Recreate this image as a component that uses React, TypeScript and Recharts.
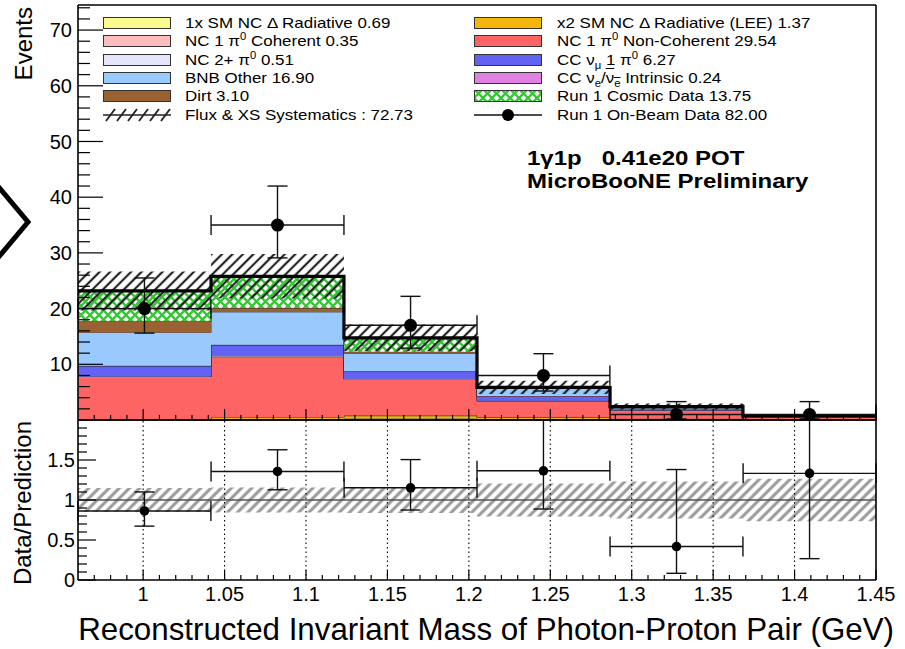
import React from 'react';
import {
  ComposedChart,
  Area,
  Line,
  Scatter,
  XAxis,
  YAxis,
  ErrorBar,
  ReferenceLine,
} from 'recharts';

const FONT = '"Liberation Sans", Arial, Helvetica, sans-serif';

// binning of the reconstructed photon-proton invariant mass (GeV)
const binEdges = [0.96, 1.0417, 1.1233, 1.205, 1.2867, 1.3683, 1.45];
const binCenters = [1.0008, 1.0825, 1.1642, 1.2458, 1.3275, 1.4092];
const binHalfWidth = 0.0408;

// stacked prediction, events per bin (bottom of the stack first)
const smDelta1x = [0.05, 0.15, 0.25, 0.15, 0.06, 0.03];
const smDelta2x = [0.1, 0.3, 0.5, 0.3, 0.12, 0.05];
const ncPi0Coh = [0.05, 0.1, 0.1, 0.05, 0.03, 0.02];
const ncPi0NonCoh = [7.45, 10.8, 6.44, 2.9, 1.5, 0.45];
const nc2Pi0 = [0.15, 0.15, 0.1, 0.06, 0.03, 0.02];
const ccNumuPi0 = [1.9, 1.95, 1.3, 0.77, 0.3, 0.05];
const ccNueIntrinsic = [0.02, 0.05, 0.06, 0.06, 0.03, 0.02];
const bnbOther = [6.0, 5.9, 3.2, 1.4, 0.3, 0.1];
const dirt = [2.0, 0.7, 0.3, 0.07, 0.02, 0.01];
const cosmic = [5.45, 5.7, 2.5, 0.1, 0, 0];

// flux & cross-section systematic (absolute, events)
const fluxXsSyst = [3.5, 4.0, 2.4, 1.2, 0.55, 0.2];

// on-beam data with asymmetric poisson errors
const onBeam = [20, 35, 17, 8, 1, 1];
const onBeamErrLow = [4.4, 5.9, 4.1, 2.8, 0.8, 0.8];
const onBeamErrHigh = [5.5, 7.0, 5.2, 3.9, 2.3, 2.3];

const xTicks = [1, 1.05, 1.1, 1.15, 1.2, 1.25, 1.3, 1.35, 1.4, 1.45];
const xTickLabels = ['1', '1.05', '1.1', '1.15', '1.2', '1.25', '1.3', '1.35', '1.4', '1.45'];
const eventsTicks = [10, 20, 30, 40, 50, 60, 70];
const ratioTicks = [0, 0.5, 1, 1.5];
const ratioTickLabels = ['0', '0.5', '1', '1.5'];

const X_DOMAIN: [number, number] = [0.96, 1.45];
const EVENTS_MAX = 74.5;
const RATIO_MAX = 2;

// minor tick positions (axis decoration only, majors included)
const xMinor = Array.from({ length: 49 }, (_, i) => +(0.97 + i * 0.01).toFixed(2));
const eventsMinor = Array.from({ length: 38 }, (_, i) => i * 2);
const ratioMinor = Array.from({ length: 21 }, (_, i) => +(i * 0.1).toFixed(1));

const STACK = [
  { key: 'smDelta1x', values: smDelta1x, fill: '#fafa8e' },
  { key: 'smDelta2x', values: smDelta2x, fill: '#f4b60a' },
  { key: 'ncPi0Coh', values: ncPi0Coh, fill: '#ffbcbc' },
  { key: 'ncPi0NonCoh', values: ncPi0NonCoh, fill: '#ff6464' },
  { key: 'nc2Pi0', values: nc2Pi0, fill: '#e4e4fa' },
  { key: 'ccNumuPi0', values: ccNumuPi0, fill: '#6262f4' },
  { key: 'ccNueIntrinsic', values: ccNueIntrinsic, fill: '#e080e0' },
  { key: 'bnbOther', values: bnbOther, fill: '#99c9fd' },
  { key: 'dirt', values: dirt, fill: '#9a6132' },
  { key: 'cosmic', values: cosmic, fill: 'url(#cosmicHatch)' },
];

const prediction = binCenters.map((_, b) => STACK.reduce((s, st) => s + st.values[b], 0));

// step rows at the bin edges; the last edge repeats the last bin
const stackRows = binEdges.map((x, i) => {
  const b = Math.min(i, binCenters.length - 1);
  const row: Record<string, any> = { x };
  STACK.forEach((st) => {
    row[st.key] = st.values[b];
  });
  row.total = prediction[b];
  row.syst = [prediction[b] - fluxXsSyst[b], prediction[b] + fluxXsSyst[b]];
  row.ratioSyst = [1 - fluxXsSyst[b] / prediction[b], 1 + fluxXsSyst[b] / prediction[b]];
  return row;
});

const dataPoints = binCenters.map((x, b) => ({
  x,
  y: onBeam[b],
  errY: [onBeamErrLow[b], onBeamErrHigh[b]],
  errX: binHalfWidth,
}));

const ratioPoints = binCenters.map((x, b) => {
  const r = onBeam[b] / prediction[b];
  const lo = Math.max(r - onBeamErrLow[b] / prediction[b], 0);
  const hi = Math.min(r + onBeamErrHigh[b] / prediction[b], RATIO_MAX);
  return { x, y: r, errY: [r - lo, hi - r], errX: binHalfWidth };
});

const axisLine = { stroke: '#000', strokeWidth: 1.6 };
const labelStyle = { fontSize: 20, fontFamily: FONT, fill: '#000' };

const findIdx = (list: number[], v: number) => list.findIndex((t) => Math.abs(t - v) < 1e-6);

// bottom x ticks drawn inward, ROOT style (long majors, short minors)
const makeXTick = (majorLen: number, minorLen: number, labels: boolean) => (p: any) => {
  const v = p.payload.value;
  const idx = findIdx(xTicks, v);
  const major = idx >= 0;
  return (
    <g>
      <line
        x1={p.x}
        x2={p.x}
        y1={p.y}
        y2={p.y - (major ? majorLen : minorLen)}
        stroke="#000"
        strokeWidth={1.2}
      />
      {labels && major && (
        <text x={p.x} y={p.y + 21} textAnchor="middle" {...labelStyle}>
          {xTickLabels[idx]}
        </text>
      )}
    </g>
  );
};

// left y ticks drawn inward
const makeYTick =
  (majors: number[], majorLabels: string[], majorLen: number, minorLen: number, gap: number) =>
  (p: any) => {
    const v = p.payload.value;
    const idx = findIdx(majors, v);
    const major = idx >= 0;
    return (
      <g>
        <line
          x1={p.x}
          x2={p.x + (major ? majorLen : minorLen)}
          y1={p.y}
          y2={p.y}
          stroke="#000"
          strokeWidth={1.2}
        />
        {major && (
          <text x={p.x - gap} y={p.y} dy="0.36em" textAnchor="end" {...labelStyle}>
            {majorLabels[idx]}
          </text>
        )}
      </g>
    );
  };

const topXTick = makeXTick(11, 5, false);
const topYTick = makeYTick(eventsTicks, eventsTicks.map(String), 25, 12, 6);
const ratioXTick = makeXTick(10, 5, true);
const ratioYTick = makeYTick(ratioTicks, ratioTickLabels, 18, 9, 3);

const bigDot = (p: any) => <circle cx={p.cx} cy={p.cy} r={6.5} fill="#000" />;
const smallDot = (p: any) => <circle cx={p.cx} cy={p.cy} r={4.8} fill="#000" />;

function EventsPanel() {
  return (
    <ComposedChart
      width={905}
      height={421}
      data={stackRows}
      margin={{ top: 4, right: 28, bottom: 0, left: 77 }}
    >
      <defs>
        <pattern id="cosmicHatch" width="9" height="9" patternUnits="userSpaceOnUse">
          <rect width="9" height="9" fill="#fff" />
          <path d="M0,0 L9,9 M9,0 L0,9" stroke="#36c636" strokeWidth="2.4" />
        </pattern>
        <pattern
          id="systHatch"
          width="7.4"
          height="7.4"
          patternUnits="userSpaceOnUse"
          patternTransform="rotate(45)"
        >
          <line x1="3.7" y1="0" x2="3.7" y2="7.4" stroke="#222" strokeWidth="2.2" />
        </pattern>
      </defs>
      <XAxis
        dataKey="x"
        type="number"
        domain={X_DOMAIN}
        ticks={xMinor}
        interval={0}
        tick={topXTick}
        tickLine={false}
        tickSize={0}
        tickMargin={0}
        height={1}
        axisLine={axisLine}
        allowDataOverflow
      />
      <XAxis
        xAxisId="frame"
        orientation="top"
        type="number"
        domain={X_DOMAIN}
        ticks={xTicks}
        tick={false}
        tickLine={false}
        height={1}
        axisLine={axisLine}
      />
      <YAxis
        type="number"
        domain={[0, EVENTS_MAX]}
        ticks={eventsMinor}
        interval={0}
        tick={topYTick}
        tickLine={false}
        tickSize={0}
        tickMargin={0}
        width={1}
        axisLine={axisLine}
        allowDataOverflow
      />
      <YAxis
        yAxisId="frame"
        orientation="right"
        type="number"
        domain={[0, 1]}
        ticks={[0, 1]}
        tick={false}
        tickLine={false}
        width={1}
        axisLine={axisLine}
      />
      {STACK.map((st) => (
        <Area
          key={st.key}
          dataKey={st.key}
          stackId="mc"
          type="stepAfter"
          fill={st.fill}
          fillOpacity={1}
          stroke="#2a2a2a"
          strokeWidth={0.8}
          isAnimationActive={false}
        />
      ))}
      <Area
        dataKey="syst"
        type="stepAfter"
        fill="url(#systHatch)"
        fillOpacity={1}
        stroke="none"
        isAnimationActive={false}
      />
      <Line
        dataKey="total"
        type="stepAfter"
        stroke="#000"
        strokeWidth={3.2}
        dot={false}
        isAnimationActive={false}
      />
      <Scatter data={dataPoints} dataKey="y" shape={bigDot} isAnimationActive={false}>
        <ErrorBar dataKey="errY" direction="y" width={10} stroke="#111" strokeWidth={1.4} />
        <ErrorBar dataKey="errX" direction="x" width={10} stroke="#111" strokeWidth={1.4} />
      </Scatter>
    </ComposedChart>
  );
}

function RatioPanel() {
  return (
    <ComposedChart
      width={905}
      height={229}
      data={stackRows}
      margin={{ top: 0, right: 28, bottom: 67, left: 77 }}
    >
      <defs>
        <pattern
          id="ratioHatch"
          width="7.2"
          height="7.2"
          patternUnits="userSpaceOnUse"
          patternTransform="rotate(45)"
        >
          <line x1="3.6" y1="0" x2="3.6" y2="7.2" stroke="#999" strokeWidth="3" />
        </pattern>
      </defs>
      <XAxis
        dataKey="x"
        type="number"
        domain={X_DOMAIN}
        ticks={xMinor}
        interval={0}
        tick={ratioXTick}
        tickLine={false}
        tickSize={0}
        tickMargin={0}
        height={1}
        axisLine={axisLine}
        allowDataOverflow
      />
      <XAxis
        xAxisId="frame"
        orientation="top"
        type="number"
        domain={X_DOMAIN}
        ticks={xTicks}
        tick={false}
        tickLine={false}
        height={1}
        axisLine={axisLine}
      />
      <YAxis
        type="number"
        domain={[0, RATIO_MAX]}
        ticks={ratioMinor}
        interval={0}
        tick={ratioYTick}
        tickLine={false}
        tickSize={0}
        tickMargin={0}
        width={1}
        axisLine={axisLine}
        allowDataOverflow
      />
      <YAxis
        yAxisId="frame"
        orientation="right"
        type="number"
        domain={[0, 1]}
        ticks={[0, 1]}
        tick={false}
        tickLine={false}
        width={1}
        axisLine={axisLine}
      />
      {xTicks.slice(0, -1).map((t) => (
        <ReferenceLine key={t} x={t} stroke="#000" strokeWidth={1.1} strokeDasharray="1.5 3" />
      ))}
      <Area
        dataKey="ratioSyst"
        type="stepAfter"
        fill="url(#ratioHatch)"
        fillOpacity={1}
        stroke="none"
        isAnimationActive={false}
      />
      <ReferenceLine y={1} stroke="#555" strokeWidth={1.6} />
      <Scatter data={ratioPoints} dataKey="y" shape={smallDot} isAnimationActive={false}>
        <ErrorBar dataKey="errY" direction="y" width={10} stroke="#111" strokeWidth={1.4} />
        <ErrorBar dataKey="errX" direction="x" width={10} stroke="#111" strokeWidth={1.4} />
      </Scatter>
    </ComposedChart>
  );
}

const Sup = ({ children }: { children: React.ReactNode }) => (
  <span style={{ fontSize: 10, position: 'relative', top: -6 }}>{children}</span>
);
const Sub = ({ children }: { children: React.ReactNode }) => (
  <span style={{ fontSize: 10, position: 'relative', top: 4 }}>{children}</span>
);

const swatchColor = (key: string) => STACK.find((s) => s.key === key)!.fill;

const legendLeft: { swatch: string; label: React.ReactNode }[] = [
  { swatch: 'smDelta1x', label: <>1x SM NC Δ Radiative 0.69</> },
  { swatch: 'ncPi0Coh', label: <>NC 1 π<Sup>0</Sup> Coherent 0.35</> },
  { swatch: 'nc2Pi0', label: <>NC 2+ π<Sup>0</Sup> 0.51</> },
  { swatch: 'bnbOther', label: <>BNB Other 16.90</> },
  { swatch: 'dirt', label: <>Dirt 3.10</> },
  { swatch: 'syst', label: <>Flux &amp; XS Systematics : 72.73</> },
];

const legendRight: { swatch: string; label: React.ReactNode }[] = [
  { swatch: 'smDelta2x', label: <>x2 SM NC Δ Radiative (LEE) 1.37</> },
  { swatch: 'ncPi0NonCoh', label: <>NC 1 π<Sup>0</Sup> Non-Coherent 29.54</> },
  { swatch: 'ccNumuPi0', label: <>CC ν<Sub>μ</Sub> 1 π<Sup>0</Sup> 6.27</> },
  {
    swatch: 'ccNueIntrinsic',
    label: (
      <>
        CC ν<Sub>e</Sub>/<span style={{ textDecoration: 'overline' }}>ν<Sub>e</Sub></span> Intrinsic 0.24
      </>
    ),
  },
  { swatch: 'cosmic', label: <>Run 1 Cosmic Data 13.75</> },
  { swatch: 'data', label: <>Run 1 On-Beam Data 82.00</> },
];

function Swatch({ kind }: { kind: string }) {
  if (kind === 'syst') {
    return (
      <svg width={68} height={14}>
        <line x1={0} y1={7} x2={68} y2={7} stroke="#222" strokeWidth={1.5} />
        {[3, 14, 25, 36, 47, 58].map((x) => (
          <line key={x} x1={x} y1={13} x2={x + 9} y2={1} stroke="#222" strokeWidth={1.8} />
        ))}
      </svg>
    );
  }
  if (kind === 'data') {
    return (
      <svg width={68} height={14}>
        <line x1={0} y1={7} x2={68} y2={7} stroke="#111" strokeWidth={1.4} />
        <circle cx={34} cy={7} r={6} fill="#000" />
      </svg>
    );
  }
  if (kind === 'cosmic') {
    return (
      <svg width={68} height={14}>
        <defs>
          <pattern id="cosmicLegend" width="9" height="9" patternUnits="userSpaceOnUse">
            <rect width="9" height="9" fill="#fff" />
            <path d="M0,0 L9,9 M9,0 L0,9" stroke="#36c636" strokeWidth="2.4" />
          </pattern>
        </defs>
        <rect x={0.5} y={1.5} width={67} height={11} fill="url(#cosmicLegend)" stroke="#333" />
      </svg>
    );
  }
  return (
    <svg width={68} height={14}>
      <rect x={0.5} y={1.5} width={67} height={11} fill={swatchColor(kind)} stroke="#333" />
    </svg>
  );
}

function LegendBlock() {
  const rowY = (i: number) => 23 + i * 18.3;
  const col = (items: typeof legendLeft, swX: number, txtX: number) =>
    items.map((it, i) => (
      <React.Fragment key={`${swX}-${i}`}>
        <div style={{ position: 'absolute', left: swX, top: rowY(i) - 7, width: 68, height: 14 }}>
          <Swatch kind={it.swatch} />
        </div>
        <div
          style={{
            position: 'absolute',
            left: txtX,
            top: rowY(i) - 10,
            height: 20,
            lineHeight: '20px',
            fontSize: 15,
            fontFamily: FONT,
            whiteSpace: 'nowrap',
            transform: 'scaleX(1.13)',
            transformOrigin: 'left center',
            color: '#000',
          }}
        >
          {it.label}
        </div>
      </React.Fragment>
    ));
  return (
    <>
      {col(legendLeft, 103, 185)}
      {col(legendRight, 474, 557)}
    </>
  );
}

export default function App() {
  return (
    <div
      style={{
        position: 'absolute',
        left: 0,
        top: 0,
        width: 905,
        height: 649,
        background: '#fff',
        overflow: 'hidden',
        fontFamily: FONT,
      }}
    >
      <div style={{ position: 'absolute', left: 0, top: 0 }}>
        <EventsPanel />
      </div>
      <div style={{ position: 'absolute', left: 0, top: 419 }}>
        <RatioPanel />
      </div>
      <LegendBlock />
      <svg
        width={905}
        height={649}
        style={{ position: 'absolute', left: 0, top: 0, pointerEvents: 'none' }}
      >
        <polyline
          points="-3,185 28,222 -3,259"
          fill="none"
          stroke="#000"
          strokeWidth={5}
          strokeLinejoin="miter"
        />
        <text
          transform="translate(32,7) rotate(-90)"
          textAnchor="end"
          fontSize={24}
          fontFamily={FONT}
          fill="#000"
        >
          Events
        </text>
        <text
          transform="translate(31,421) rotate(-90)"
          textAnchor="end"
          fontSize={24}
          fontFamily={FONT}
          fill="#000"
        >
          Data/Prediction
        </text>
        <text x={894} y={640} textAnchor="end" fontSize={31.3} fontFamily={FONT} fill="#000">
          Reconstructed Invariant Mass of Photon-Proton Pair (GeV)
        </text>
        <g transform="translate(527,165) scale(1.2,1)">
          <text x={0} y={0} fontSize={20} fontWeight="bold" fontFamily={FONT} fill="#000">
            1γ1p{'\u00a0\u00a0\u00a0'}0.41e20 POT
          </text>
        </g>
        <g transform="translate(527,188) scale(1.2,1)">
          <text x={0} y={0} fontSize={20} fontWeight="bold" fontFamily={FONT} fill="#000">
            MicroBooNE Preliminary
          </text>
        </g>
      </svg>
    </div>
  );
}
